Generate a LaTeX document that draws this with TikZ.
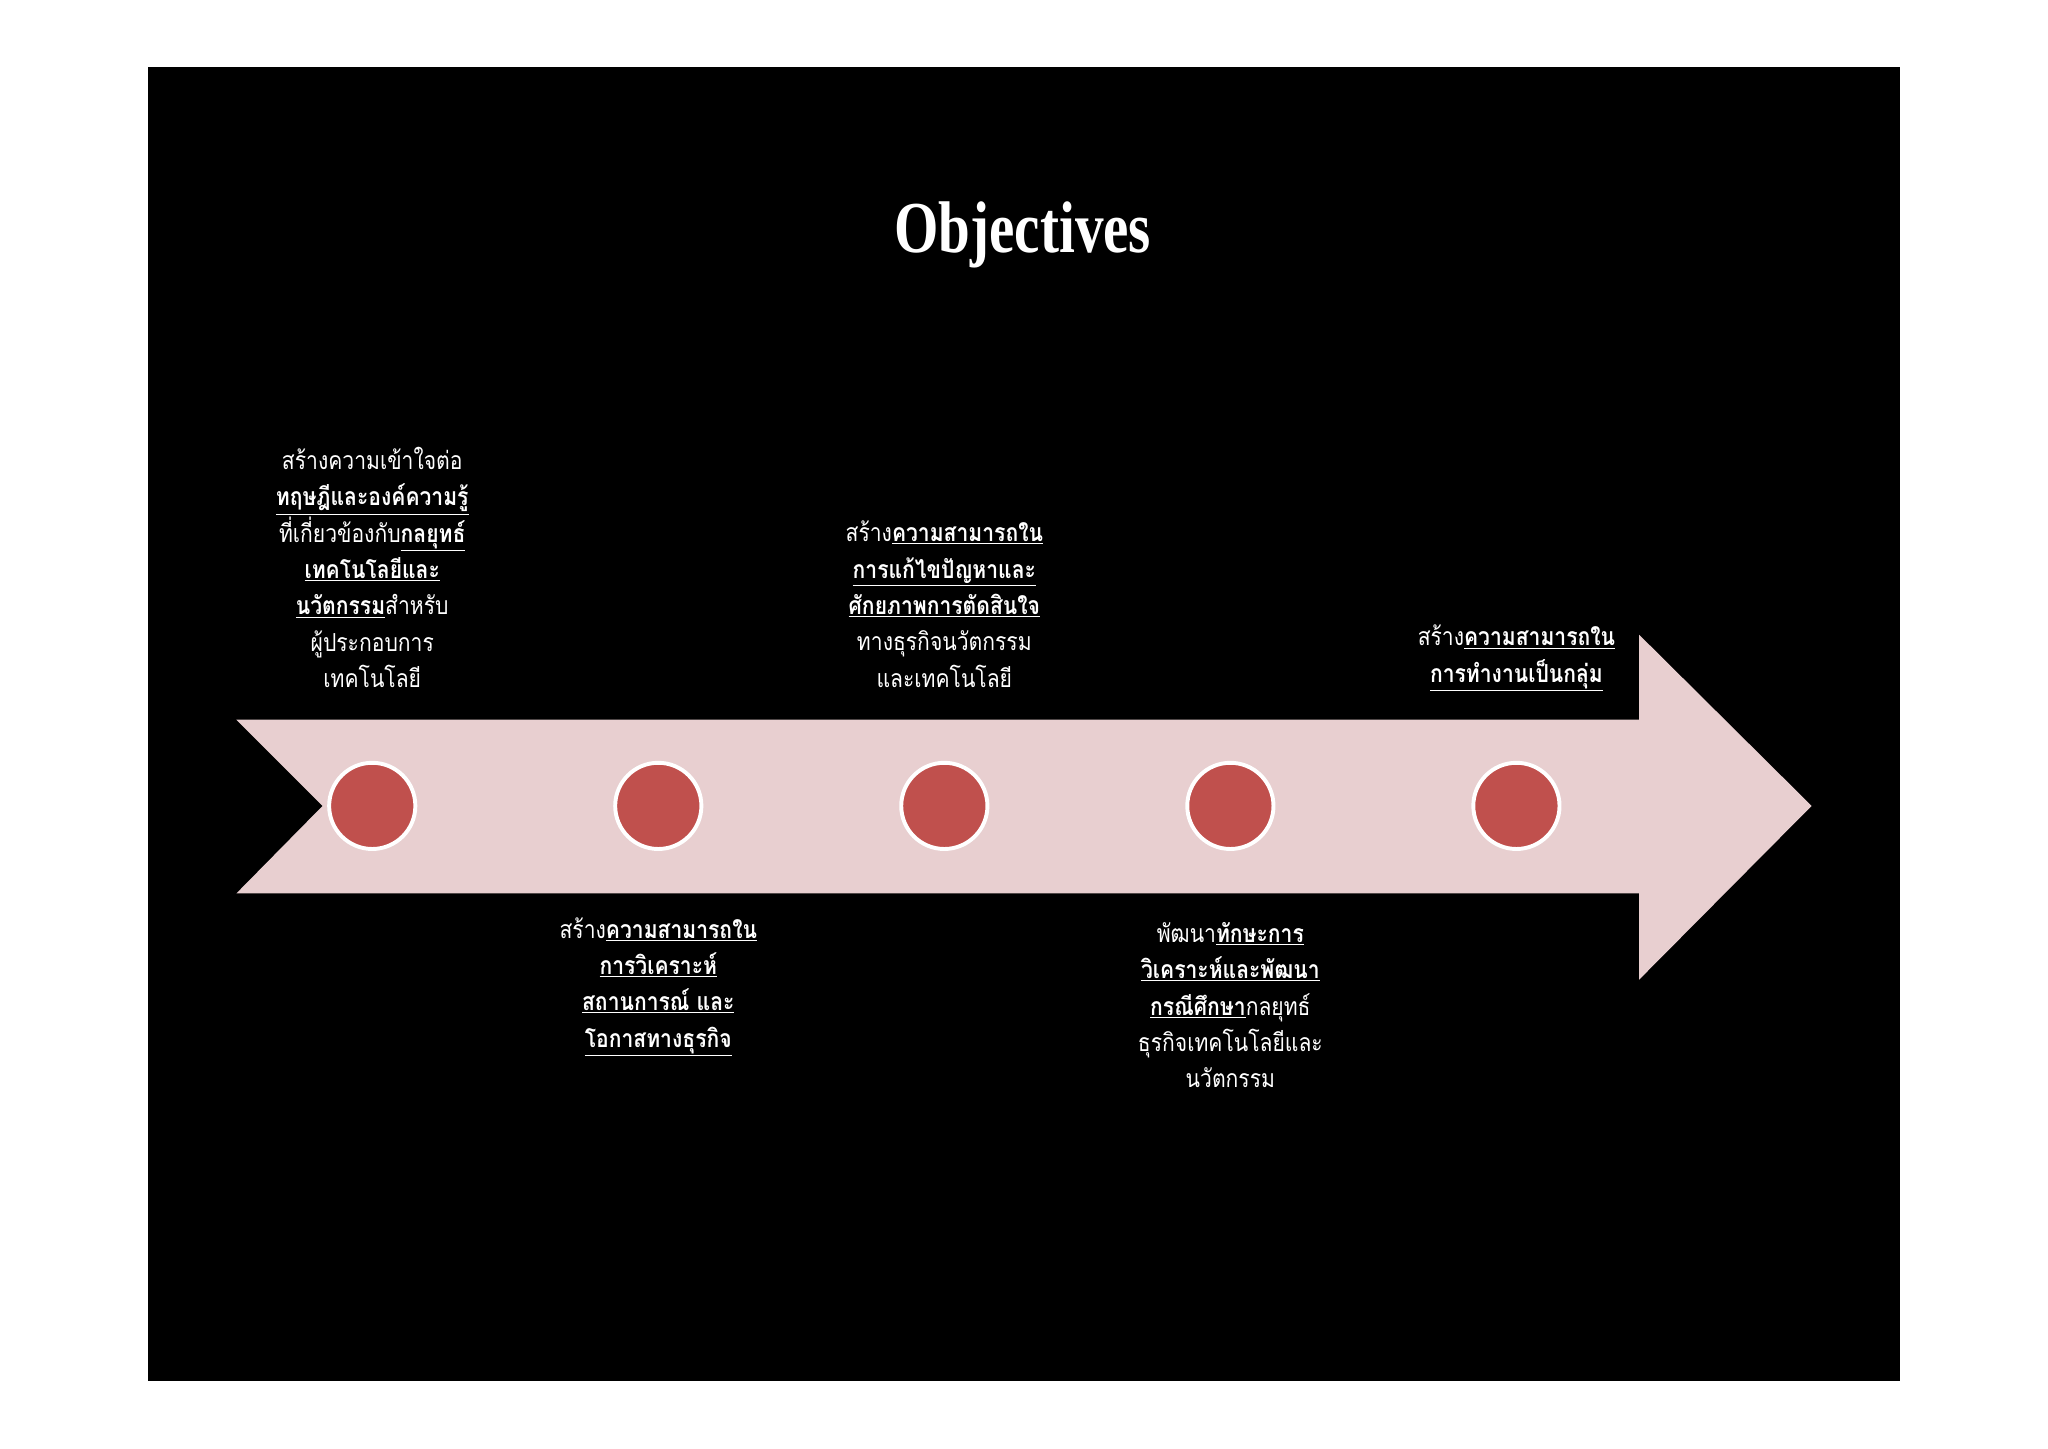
\documentclass[tikz,border=0pt]{standalone}
\usepackage{fontspec}
\setmainfont{Liberation Serif}
\newfontfamily\thaifont[Script=Thai]{Loma}
\newcommand{\tu}[1]{\underline{\textbf{#1}}}
\definecolor{arrowpink}{HTML}{E8CFD0}
\definecolor{dotred}{HTML}{C0504D}
\begin{document}
\begin{tikzpicture}[x=1pt,y=-1pt,
  dot/.style={circle,draw=white,line width=3pt,fill=dotred,minimum size=66pt,inner sep=0pt},
  txt/.style={text=white,align=center,font=\thaifont\fontsize{19}{27.8}\selectfont,xscale=0.85,inner sep=0pt}]
\useasboundingbox (0,0) rectangle (1568,1109);
\fill[white] (0,0) rectangle (1568,1109);
\fill[black] (113,51) rectangle (1455,1057);
\fill[arrowpink] (181,551) -- (1255,551) -- (1255,486) -- (1387,617) -- (1255,750) -- (1255,684) -- (181,684) -- (247,617) -- cycle;
\foreach \n/\x in {a/285,b/504,c/723,d/942,e/1161} \node[dot] (\n) at (\x,617) {};
\node[text=white,font=\bfseries\fontsize{56}{60}\selectfont,xscale=0.78] (title) at (783,180) {Objectives};
\node[txt] (t1) at (285,434.5) {สร้างความเข้าใจต่อ\\ \tu{ทฤษฎีและองค์ความรู้}\\ ที่เกี่ยวข้องกับ\tu{กลยุทธ์}\\ \tu{เทคโนโลยีและ}\\ \tu{นวัตกรรม}สำหรับ\\ ผู้ประกอบการ\\ เทคโนโลยี};
\node[txt] (t3) at (723,462.5) {สร้าง\tu{ความสามารถใน}\\ \tu{การแก้ไขปัญหาและ}\\ \tu{ศักยภาพการตัดสินใจ}\\ ทางธุรกิจนวัตกรรม\\ และเทคโนโลยี};
\node[txt] (t5) at (1161,504) {สร้าง\tu{ความสามารถใน}\\ \tu{การทำงานเป็นกลุ่ม}};
\node[txt] (t2) at (504,755.5) {สร้าง\tu{ความสามารถใน}\\ \tu{การวิเคราะห์}\\ \tu{สถานการณ์ และ}\\ \tu{โอกาสทางธุรกิจ}};
\node[txt] (t4) at (942,769.5) {พัฒนา\tu{ทักษะการ}\\ \tu{วิเคราะห์และพัฒนา}\\ \tu{กรณีศึกษา}กลยุทธ์\\ ธุรกิจเทคโนโลยีและ\\ นวัตกรรม};
\end{tikzpicture}
\end{document}
